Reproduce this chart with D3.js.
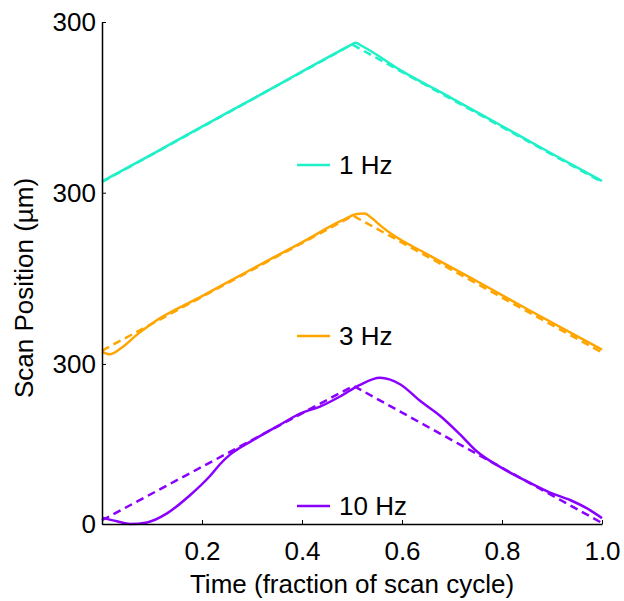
<!DOCTYPE html>
<html>
<head>
<meta charset="utf-8">
<script src="https://cdn.jsdelivr.net/npm/d3@7"></script>
<style>
  body { margin: 0; background: #fff; }
  text { font-family: "Liberation Sans", Arial, sans-serif; fill: #000; }
</style>
</head>
<body>
<svg id="chart" width="624" height="601"></svg>
<script>
// scan position traces, time as fraction of cycle, position in µm (before offset)
const freqs = ["1 Hz", "3 Hz", "10 Hz"];
const colors = ["#1ef0c8", "#ffa500", "#8a00ff"];
const offsets = [641, 321, 0];

const command1 = [[0, 0], [0.5, 258], [1, 0]];
const measured1 = [[0, 1], [0.1, 52], [0.2, 104], [0.3, 155], [0.4, 207], [0.47, 243], [0.5, 258],
  [0.507, 261], [0.52, 255], [0.6, 208], [0.7, 157], [0.8, 105], [0.9, 53], [1, 2]];

const command3 = [[0, 4], [0.502, 257], [1, 0.5]];
const measured3 = [[0, 2], [0.015, -3], [0.04, 10], [0.07, 34], [0.1, 55], [0.2, 106], [0.3, 157],
  [0.4, 207], [0.48, 248], [0.51, 260], [0.525, 261], [0.54, 252], [0.56, 236], [0.58, 222],
  [0.65, 185], [0.75, 134], [0.85, 82], [0.95, 31], [1, 6]];

const command10 = [[0, 7], [0.503, 259], [1, 2]];
const measured10 = [[0, 12], [0.03, 5], [0.056, 0], [0.09, 3], [0.13, 20], [0.176, 54], [0.216, 90],
  [0.236, 112], [0.256, 130], [0.276, 143], [0.296, 154], [0.356, 186], [0.396, 207], [0.436, 220],
  [0.476, 239], [0.516, 261], [0.556, 274], [0.596, 262], [0.636, 231], [0.676, 203], [0.716, 168],
  [0.75, 136], [0.796, 107], [0.85, 80], [0.896, 59], [0.936, 45], [0.976, 26], [1, 11]];

const commands = [command1, command3, command10];
const measured = [measured1, measured3, measured10];

const xTicks = [0.2, 0.4, 0.6, 0.8, 1.0];
const yTicks = [0, 300, 621, 941];
const yTickLabels = ["0", "300", "300", "300"];

const svg = d3.select("#chart");
const x = d3.scaleLinear().domain([0, 1]).range([102, 602]);
const y = d3.scaleLinear().domain([0, 941]).range([524, 22]);

const line = d3.line()
  .x(d => x(d[0]))
  .y(d => y(d[1]))
  .curve(d3.curveMonotoneX);

freqs.forEach((f, i) => {
  const off = offsets[i];
  svg.append("path")
    .datum(commands[i].map(d => [d[0], d[1] + off]))
    .attr("d", d3.line().x(d => x(d[0])).y(d => y(d[1])))
    .attr("fill", "none")
    .attr("stroke", colors[i])
    .attr("stroke-width", 2.5)
    .attr("stroke-dasharray", "8,5");
  svg.append("path")
    .datum(measured[i].map(d => [d[0], d[1] + off]))
    .attr("d", line)
    .attr("fill", "none")
    .attr("stroke", colors[i])
    .attr("stroke-width", 2.5);
});

// axes
const xAxis = svg.append("g")
  .attr("transform", "translate(0,524)")
  .call(d3.axisBottom(x).tickValues(xTicks).tickFormat(d3.format(".1f")).tickSizeInner(-4).tickSizeOuter(0).tickPadding(18));
xAxis.select(".domain").attr("stroke-width", 1.5);
xAxis.selectAll("text").attr("font-size", 26);

const yAxis = svg.append("g")
  .attr("transform", "translate(102,0)")
  .call(d3.axisLeft(y).tickValues(yTicks).tickFormat((d, i) => yTickLabels[i]).tickSizeInner(-4).tickSizeOuter(0).tickPadding(6));
yAxis.select(".domain").attr("stroke-width", 1.5);
yAxis.selectAll("text").attr("font-size", 26);

svg.append("text")
  .attr("x", 352).attr("y", 593)
  .attr("text-anchor", "middle")
  .attr("font-size", 26)
  .text("Time (fraction of scan cycle)");

svg.append("text")
  .attr("transform", "translate(33,288) rotate(-90)")
  .attr("text-anchor", "middle")
  .attr("font-size", 26)
  .text("Scan Position (µm)");

// legend labels
const legendY = [165, 336, 506];
freqs.forEach((f, i) => {
  svg.append("line")
    .attr("x1", 297).attr("x2", 330)
    .attr("y1", legendY[i]).attr("y2", legendY[i])
    .attr("stroke", colors[i])
    .attr("stroke-width", 2.5);
  svg.append("text")
    .attr("x", 339).attr("y", legendY[i])
    .attr("dy", "0.35em")
    .attr("font-size", 26)
    .text(f);
});
</script>
</body>
</html>
